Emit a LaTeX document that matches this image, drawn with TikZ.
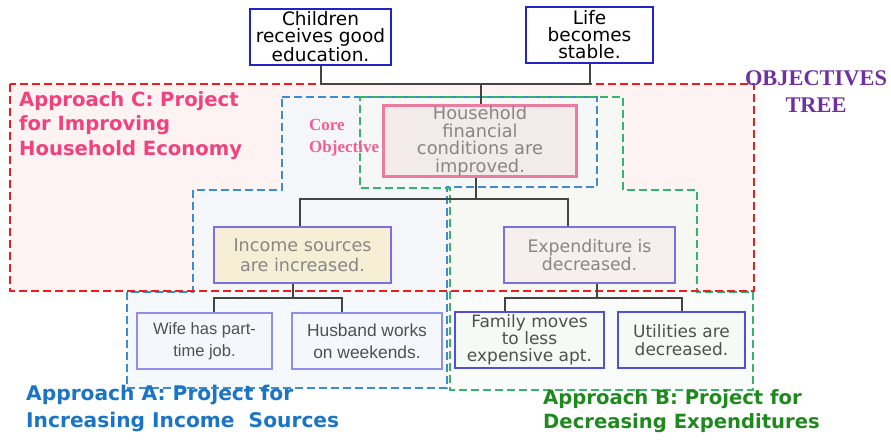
\documentclass[tikz,border=0pt]{standalone}
\usepackage{fontspec}
\setmainfont{DejaVu Sans}
\newfontfamily\arialf{Liberation Sans}
\newfontfamily\timesf{Liberation Serif}
\definecolor{redline}{HTML}{F21B1B}
\definecolor{redfill}{HTML}{FCF3F2}
\definecolor{blueline}{HTML}{3C8CCF}
\definecolor{bluefill}{HTML}{F4F7FB}
\definecolor{greenline}{HTML}{33B56E}
\definecolor{greenfill}{HTML}{F5FAF6}
\definecolor{linec}{HTML}{444444}
\definecolor{topblue}{HTML}{2323C8}
\definecolor{midblue}{HTML}{7A70E0}
\definecolor{lowblue}{HTML}{5050D8}
\definecolor{lightblue}{HTML}{8F8FEA}
\definecolor{pinkc}{HTML}{F2427E}
\definecolor{pinkbox}{HTML}{EC7B9E}
\definecolor{housefill}{HTML}{F3EAEA}
\definecolor{cream}{HTML}{F7EED6}
\definecolor{expfill}{HTML}{F7EEEE}
\definecolor{greytext}{HTML}{8A8585}
\definecolor{darktext}{HTML}{505050}
\definecolor{purpc}{HTML}{7030A0}
\definecolor{blueA}{HTML}{1C74C4}
\definecolor{greenB}{HTML}{1E8A1E}
\begin{document}
\begin{tikzpicture}[x=1pt,y=-1pt,
  conn/.style={draw=linec, line width=2pt},
  region/.style={line width=2.4pt, dash pattern=on 8pt off 4pt},
  abox/.style={draw, line width=1.5pt, align=center, inner sep=0pt},
  topbox/.style={abox, draw=topblue, fill=white, text=black, font=\fontsize{18.5}{17}\selectfont},
  lowbox/.style={abox, draw=lowblue, fill=greenfill, text=darktext, font=\fontsize{17}{17}\selectfont},
  arbox/.style={abox, draw=lightblue, line width=1.2pt, fill=bluefill, text=darktext, font=\arialf\fontsize{16.5}{22}\selectfont},
  approach/.style={anchor=north west, align=left, inner sep=0pt, font=\bfseries\fontsize{19.6}{24.5}\selectfont}
]
\useasboundingbox (0,0) rectangle (891,439);
% region fills
\fill[redfill] (10,84) rectangle (754,291);
\fill[bluefill, fill opacity=0.8] (282,97) -- (597,97) -- (597,187) -- (447,187) -- (447,388) -- (127,388) -- (127,292) -- (193,292) -- (193,190) -- (282,190) -- cycle;
\fill[greenfill, fill opacity=0.6] (360,97) -- (623,97) -- (623,190) -- (697,190) -- (697,292) -- (753,292) -- (753,390) -- (450,390) -- (450,188) -- (360,188) -- cycle;
% region outlines
\draw[region, draw=blueline] (282,97) -- (597,97) -- (597,187) -- (447,187) -- (447,388) -- (127,388) -- (127,292) -- (193,292) -- (193,190) -- (282,190) -- cycle;
\draw[region, draw=greenline] (360,97) -- (623,97) -- (623,190) -- (697,190) -- (697,292) -- (753,292) -- (753,390) -- (450,390) -- (450,188) -- (360,188) -- cycle;
\draw[region, draw=redline] (10,84) rectangle (754,291);

% boxes
\node[topbox, minimum width=141pt, minimum height=56pt] (child) at (320.5,37) {Children\\receives good\\education.};
\node[topbox, minimum width=127pt, minimum height=56pt] (life) at (589.5,35) {Life\\becomes\\stable.};
\node[abox, draw=pinkbox, line width=3pt, fill=housefill, text=greytext, minimum width=193pt, minimum height=71pt, font=\fontsize{17.8}{17.4}\selectfont] (house) at (480,141) {Household\\financial\\conditions are\\improved.};
\node[abox, draw=midblue, fill=cream, text=greytext, minimum width=177pt, minimum height=56pt, font=\fontsize{17.6}{20}\selectfont] (inc) at (302.5,255) {Income sources\\are increased.};
\node[abox, draw=midblue, fill=expfill, text=greytext, minimum width=171pt, minimum height=56pt, font=\fontsize{17.3}{18}\selectfont] (exp) at (589.5,255) {Expenditure is\\decreased.};
\node[arbox, minimum width=135pt, minimum height=56pt] (wife) at (204.5,341) {Wife has part-\\time job.};
\node[arbox, minimum width=150pt, minimum height=56pt, font=\arialf\fontsize{17.4}{22}\selectfont] (husb) at (367,341) {Husband works\\on weekends.};
\node[lowbox, minimum width=149pt, minimum height=56pt] (fam) at (529.5,340) {Family moves\\to less\\expensive apt.};
\node[lowbox, minimum width=127pt, minimum height=56pt, font=\fontsize{17}{18}\selectfont] (util) at (681.5,340) {Utilities are\\decreased.};

% connectors
\coordinate (j1) at (481,84);
\draw[conn] (child.south) |- (j1) -| (life.south);
\draw[conn] (j1) -- (house.north -| j1);
\coordinate (j2) at (476,199);
\draw[conn] (house.south -| j2) -- (j2);
\draw[conn] ([xshift=-2.5pt]inc.north) |- (j2) -| ([xshift=-21.5pt]exp.north);
\coordinate (j3) at (293,298);
\draw[conn] (inc.south -| j3) -- (j3);
\draw[conn] ([xshift=9.5pt]wife.north) |- (j3) -| ([xshift=-25pt]husb.north);
\coordinate (j4) at (597,298);
\draw[conn] (exp.south -| j4) -- (j4);
\draw[conn] ([xshift=-24.5pt]fam.north) |- (j4) -| ([xshift=0.5pt]util.north);

% labels
\node[approach, text=pinkc] (apC) at (19,91) {Approach C: Project\\for Improving\\Household Economy};
\node[approach, text=blueA, font=\bfseries\fontsize{20.2}{27}\selectfont] (apA) at (26,385) {Approach A: Project for\\Increasing Income\ \ Sources};
\node[approach, text=greenB, font=\bfseries\fontsize{19.6}{24}\selectfont] (apB) at (543,389) {Approach B: Project for\\Decreasing Expenditures};
\node[anchor=north, align=center, inner sep=0pt, text=purpc, font=\timesf\bfseries\fontsize{22.4}{27}\selectfont] (obj) at (816,70) {OBJECTIVES\\TREE};
\node[anchor=north west, align=left, inner sep=0pt, text=pinkc!85, font=\timesf\bfseries\fontsize{17}{22}\selectfont] (core) at (309,119) {Core\\Objective};
\end{tikzpicture}
\end{document}
